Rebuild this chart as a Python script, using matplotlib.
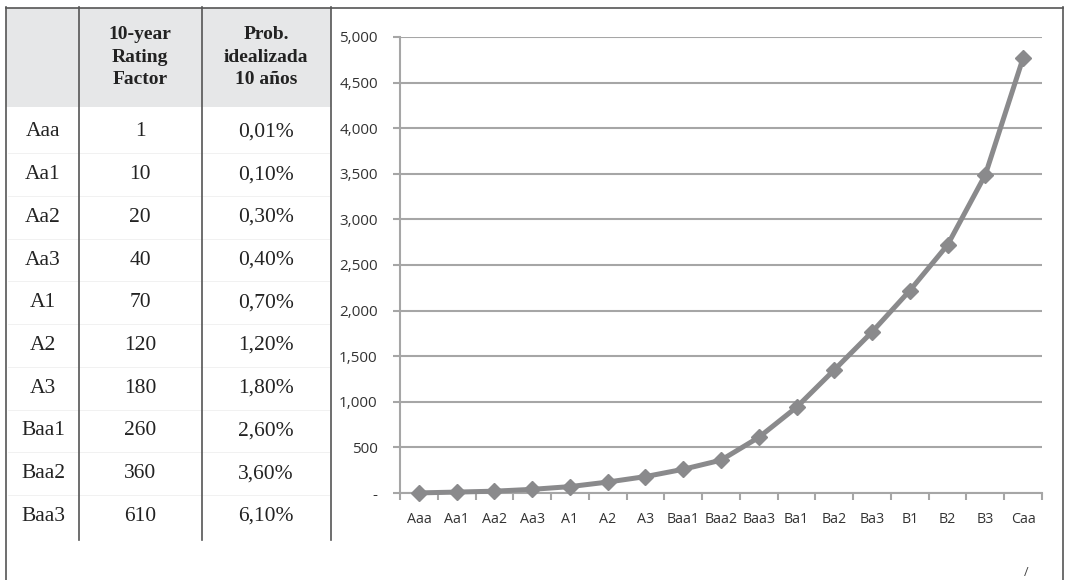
import matplotlib
matplotlib.use("Agg")
import matplotlib.pyplot as plt

# ---- data ----
table_ratings = ["Aaa", "Aa1", "Aa2", "Aa3", "A1", "A2", "A3", "Baa1", "Baa2", "Baa3"]
table_factors = ["1", "10", "20", "40", "70", "120", "180", "260", "360", "610"]
table_probs = ["0,01%", "0,10%", "0,30%", "0,40%", "0,70%", "1,20%", "1,80%", "2,60%", "3,60%", "6,10%"]
header_cols = ["", "10-year\nRating\nFactor", "Prob.\nidealizada\n10 años"]

chart_categories = ["Aaa", "Aa1", "Aa2", "Aa3", "A1", "A2", "A3", "Baa1", "Baa2",
                    "Baa3", "Ba1", "Ba2", "Ba3", "B1", "B2", "B3", "Caa"]
chart_values = [1, 10, 20, 40, 70, 120, 180, 260, 360, 610, 940, 1350, 1766,
                2220, 2720, 3490, 4770]
y_ticks = [0, 500, 1000, 1500, 2000, 2500, 3000, 3500, 4000, 4500, 5000]

W, H = 1065, 580
fig = plt.figure(figsize=(W / 100, H / 100), dpi=100)
fig.patch.set_facecolor("white")

# overlay axes in pixel coordinates
ov = fig.add_axes([0, 0, 1, 1])
ov.set_xlim(0, W)
ov.set_ylim(H, 0)
ov.axis("off")

border = "#555555"
# header band
ov.add_patch(plt.Rectangle((6, 8), 325, 99, facecolor="#e6e7e8", edgecolor="none", zorder=0))
# outer frame
ov.plot([6, 1063], [7.5, 7.5], color=border, lw=1.2)
ov.plot([6, 6], [7, 580], color=border, lw=1.2)
ov.plot([1063, 1063], [7, 580], color=border, lw=1.2)
# table column dividers
for xv in (79, 202, 331):
    ov.plot([xv, xv], [7, 540], color=border, lw=1.2)

# faint row separators
row_y0 = 132
row_dy = 42.7
for i in range(len(table_ratings) - 1):
    yy = row_y0 + row_dy * (i + 0.5)
    ov.plot([8, 329], [yy, yy], color="#efefef", lw=0.6, zorder=0)

col_centers = [43, 140, 266]
serif = ["Liberation Serif", "DejaVu Serif"]
for cx, txt in zip(col_centers, header_cols):
    if txt:
        ov.text(cx, 57, txt, ha="center", va="center", fontsize=14,
                fontweight="bold", family=serif, color="#222222", linespacing=1.45)

for i, (r, f, p) in enumerate(zip(table_ratings, table_factors, table_probs)):
    yy = row_y0 + row_dy * i
    for cx, txt in zip(col_centers, (r, f, p)):
        ov.text(cx, yy, txt, ha="center", va="center", fontsize=15.5,
                family=serif, color="#222222")

ov.text(1026, 573, "/", ha="center", va="center", fontsize=9, color="#444444",
        family=["Open Sans", "DejaVu Sans"])

# ---- chart ----
left, right = 400, 1042
top, bottom = 37, 493
ax = fig.add_axes([left / W, (H - bottom) / H, (right - left) / W, (bottom - top) / H])
ax.set_facecolor("none")
x = list(range(len(chart_categories)))
gray = "#8a8a8c"
ax.plot(x, chart_values, color=gray, lw=3.6, marker="D", markersize=8,
        markerfacecolor=gray, markeredgecolor=gray, zorder=3, clip_on=False)
ax.set_xlim(-0.5, len(chart_categories) - 0.5)
ax.set_ylim(0, 5000)
ax.set_yticks(y_ticks)
ax.set_yticklabels(["-" if v == 0 else f"{v:,}" for v in y_ticks])
ax.yaxis.grid(True, color="#a6a6a6", lw=1.5)
ax.set_axisbelow(True)
ax.set_xticks([i - 0.5 for i in range(len(chart_categories) + 1)])
ax.set_xticklabels([])
ax.set_xticks(x, minor=True)
ax.set_xticklabels(chart_categories, minor=True)
ax.tick_params(axis="x", which="major", length=5, width=1.5, color="#a6a6a6", direction="out")
ax.tick_params(axis="x", which="minor", length=0, pad=14, labelsize=10.3, labelcolor="#333333")
ax.tick_params(axis="y", length=5, width=1.5, color="#a6a6a6", pad=11, labelsize=11,
               labelcolor="#333333")
for lbl in ax.get_xticklabels(minor=True) + ax.get_yticklabels():
    lbl.set_family(["Open Sans", "DejaVu Sans"])
for s in ("top", "right"):
    ax.spines[s].set_visible(False)
for s in ("left", "bottom"):
    ax.spines[s].set_color("#a6a6a6")
    ax.spines[s].set_linewidth(1.5)

fig.savefig("out.png", dpi=100, facecolor="white")
